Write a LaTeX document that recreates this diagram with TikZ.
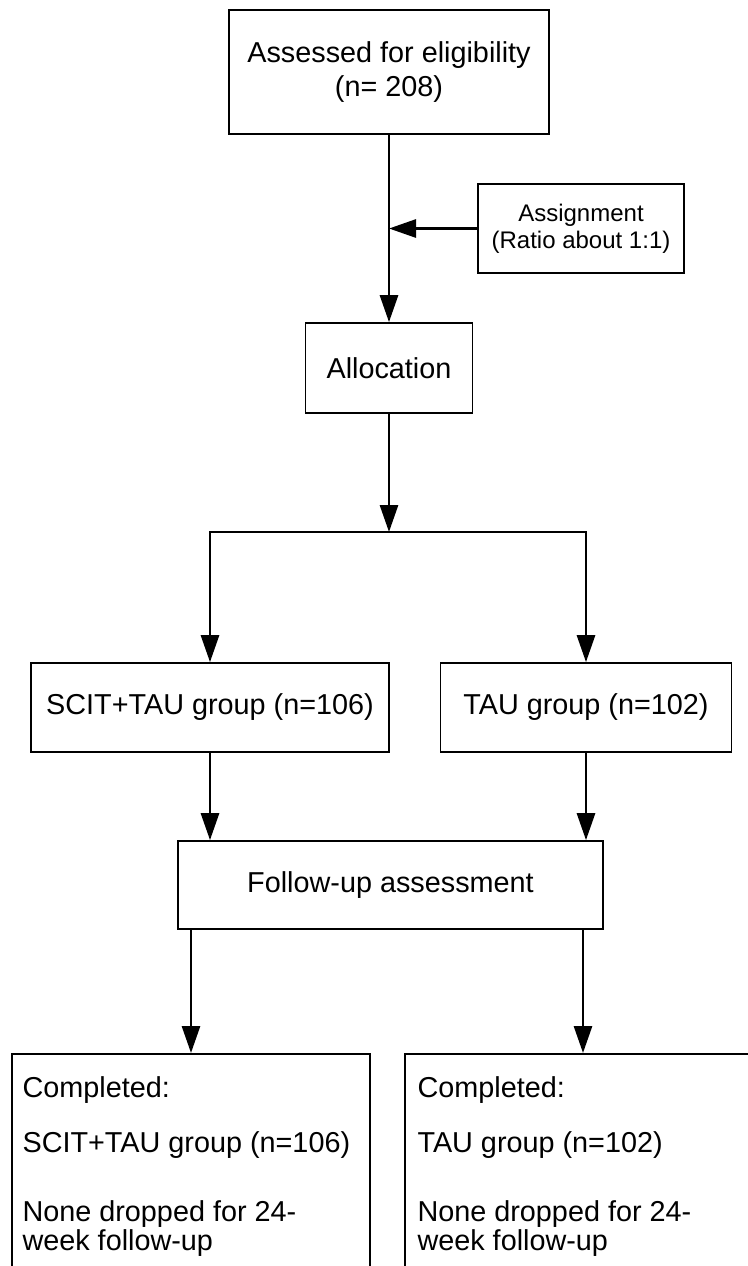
\documentclass[tikz,border=0pt]{standalone}
\usepackage{fontspec}
\setmainfont{Liberation Sans}
\usetikzlibrary{arrows.meta}

\begin{document}
\begin{tikzpicture}[x=0.5pt,y=-0.5pt,
        box/.style={draw, line width=0.85pt, align=center, inner sep=0pt,
            font=\fontsize{14.4}{17}\selectfont},
        donetext/.style={align=left, inner sep=0pt, anchor=north west,
            font=\fontsize{14.4}{14.5}\selectfont},
        flow/.style={line width=1.4pt, -{Triangle[length=13.5pt,width=9pt]}}]
    \useasboundingbox (0,0) rectangle (748,1266);

    % boxes
    \node[box, minimum width=160pt, minimum height=62pt] (assess) at (389,72)
        {Assessed for eligibility\\(n= 208)};
    \node[box, minimum width=103pt, minimum height=44.5pt,
        font=\fontsize{12}{13.5}\selectfont] (assign) at (581,228.5)
        {Assignment\\(Ratio about 1:1)};
    \node[box, minimum width=83.5pt, minimum height=45pt] (alloc) at (389,368) {Allocation};
    \node[box, minimum width=179pt, minimum height=44.5pt] (scit) at (210,707.5)
        {SCIT+TAU group (n=106)};
    \node[box, minimum width=145.5pt, minimum height=44.5pt] (tau) at (586,707.5)
        {TAU group (n=102)};
    \node[box, minimum width=212.5pt, minimum height=44pt] (follow) at (390.5,885)
        {Follow-up assessment};
    \node[box, anchor=north, minimum width=179pt, minimum height=130pt] (done1) at (191,1053) {};
    \node[box, anchor=north, minimum width=178pt, minimum height=130pt] (done2) at (583,1053) {};
    \node[donetext] (done1txt) at ([xshift=5.5pt,yshift=-11.5pt]done1.north west)
        {Completed:\\[13pt]SCIT+TAU group (n=106)\\[20pt]None dropped for 24-\\week follow-up};
    \node[donetext] (done2txt) at ([xshift=6.5pt,yshift=-11.5pt]done2.north west)
        {Completed:\\[13pt]TAU group (n=102)\\[20pt]None dropped for 24-\\week follow-up};

    % arrows
    \coordinate (split) at (389,532);
    \draw[flow] (assess.south) -- (assess.south |- alloc.north);
    \draw[flow] (assign.west) -- (assign.west -| assess.south);
    \draw[flow] (alloc.south) -- (split);
    \draw[flow] (split) -| (scit.north);
    \draw[flow] (split) -| (tau.north);
    \draw[flow] (scit.south) -- (scit.south |- follow.north);
    \draw[flow] (tau.south) -- (tau.south |- follow.north);
    \draw[flow] (done1.north |- follow.south) -- (done1.north);
    \draw[flow] (done2.north |- follow.south) -- (done2.north);
\end{tikzpicture}
\end{document}
